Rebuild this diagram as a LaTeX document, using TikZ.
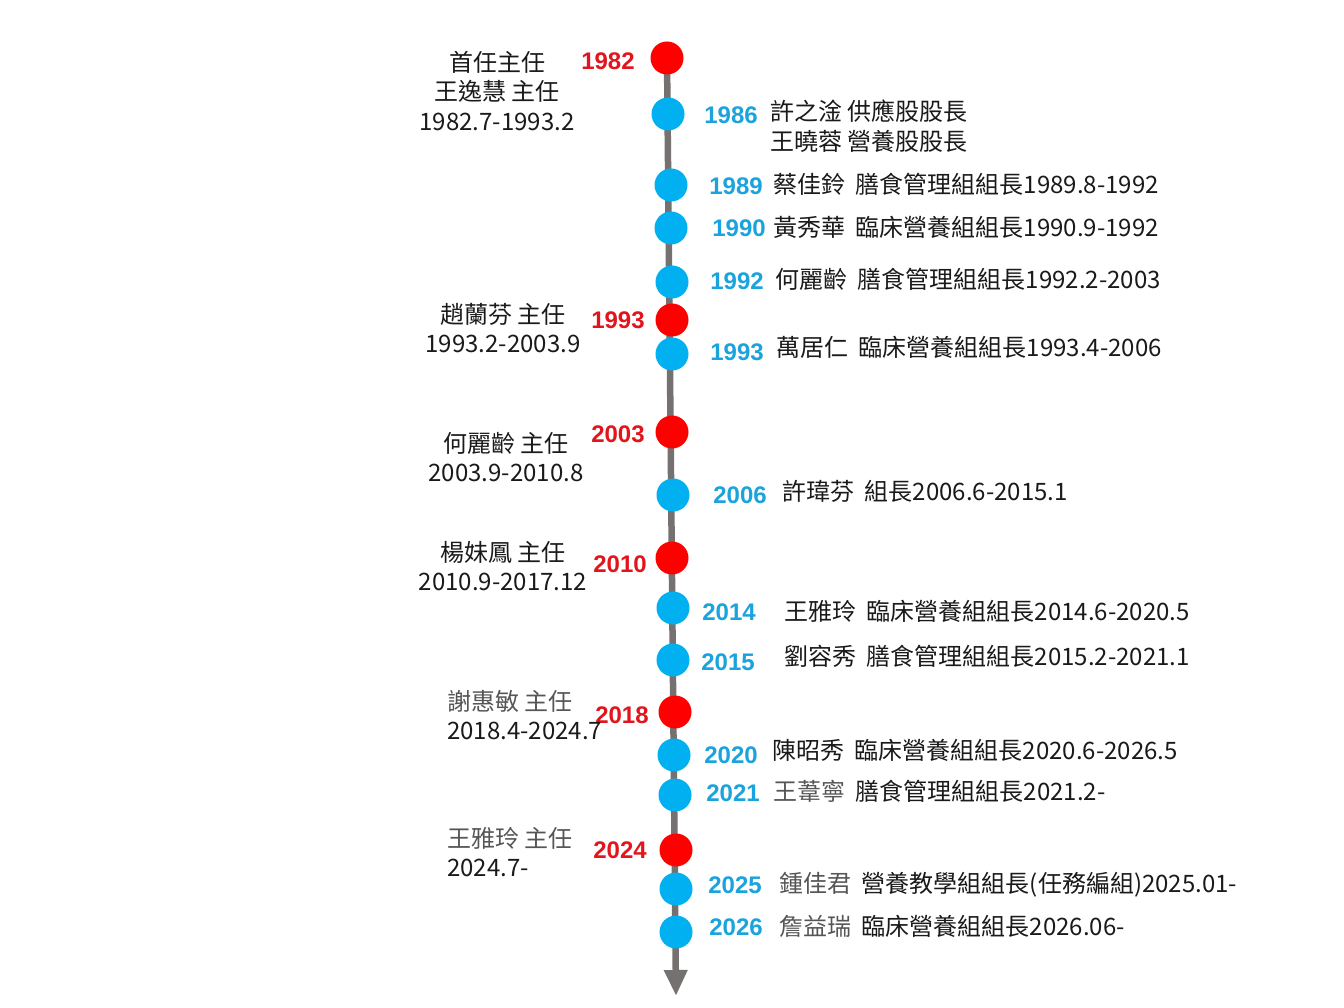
\documentclass[tikz,border=0pt]{standalone}
\usepackage{fontspec}
\setmainfont{Liberation Sans}
\newfontfamily\cjk{Noto Sans CJK TC}
\usetikzlibrary{arrows.meta,backgrounds}
\definecolor{dotred}{HTML}{FF0000}
\definecolor{dotblue}{HTML}{00B0F0}
\definecolor{yearred}{HTML}{E2141C}
\definecolor{yearblue}{HTML}{1AA3DD}
\definecolor{axisgray}{HTML}{767171}
\definecolor{txtdark}{HTML}{1A1A1A}
\definecolor{txtgray}{HTML}{555555}

\begin{document}
\begin{tikzpicture}[x=1pt, y=-1pt,
  dot/.style={circle, minimum size=33pt, inner sep=0pt, outer sep=0pt},
  reddot/.style={dot, fill=dotred},
  bluedot/.style={dot, fill=dotblue},
  ryear/.style={inner sep=0pt, text=yearred, font=\fontsize{24}{28}\selectfont\bfseries},
  byear/.style={inner sep=0pt, text=yearblue, font=\fontsize{24}{28}\selectfont\bfseries},
  txt/.style={inner sep=0pt, text=txtdark, font=\cjk\fontsize{24}{29.5}\selectfont},
  axis/.style={draw=axisgray, line width=6.5pt, -{Triangle[length=26pt,width=22pt]}}]
\useasboundingbox (0,0) rectangle (1344,1008);

\node[reddot] (d1982) at (667,58) {};
\node[bluedot] (d1986) at (668,114) {};
\node[bluedot] (d1989) at (671,185) {};
\node[bluedot] (d1990) at (671,228) {};
\node[bluedot] (d1992) at (672,282) {};
\node[reddot] (d1993r) at (672,320) {};
\node[bluedot] (d1993b) at (672,354) {};
\node[reddot] (d2003) at (672,432) {};
\node[bluedot] (d2006) at (673,495) {};
\node[reddot] (d2010) at (672,558) {};
\node[bluedot] (d2014) at (673,608) {};
\node[bluedot] (d2015) at (673,660) {};
\node[reddot] (d2018) at (675,712) {};
\node[bluedot] (d2020) at (674,755) {};
\node[bluedot] (d2021) at (675,795) {};
\node[reddot] (d2024) at (676,850) {};
\node[bluedot] (d2025) at (676,889) {};
\node[bluedot] (d2026) at (676,932) {};
\coordinate (tip) at (676,996);

\begin{scope}[on background layer]
\fill[white] (0,0) rectangle (1344,1008);
\draw[axis] (d1982.center) -- (tip);
\end{scope}

\node[ryear] (y1982) at (608,61) {1982};
\node[ryear] (y1993r) at (618,320) {1993};
\node[ryear] (y2003) at (618,434) {2003};
\node[ryear] (y2010) at (620,564) {2010};
\node[ryear] (y2018) at (622,715) {2018};
\node[ryear] (y2024) at (620,850) {2024};

\node[byear] (y1986) at (731,115) {1986};
\node[byear] (y1989) at (736,186) {1989};
\node[byear] (y1990) at (739,228) {1990};
\node[byear] (y1992) at (737,281) {1992};
\node[byear] (y1993b) at (737,352) {1993};
\node[byear] (y2006) at (740,495) {2006};
\node[byear] (y2014) at (729,612) {2014};
\node[byear] (y2015) at (728,662) {2015};
\node[byear] (y2020) at (731,755) {2020};
\node[byear] (y2021) at (733,793) {2021};
\node[byear] (y2025) at (735,885) {2025};
\node[byear] (y2026) at (736,927) {2026};

% directors, left side
\node[txt, align=center] (l1982) at (497,91) {首任主任\\王逸慧 主任\\1982.7-1993.2};
\node[txt, align=center] (l1993) at (503,328) {趙蘭芬 主任\\1993.2-2003.9};
\node[txt, align=center] (l2003) at (506,457) {何麗齡 主任\\2003.9-2010.8};
\node[txt, align=center] (l2010) at (503,566) {楊妹鳳 主任\\2010.9-2017.12};
\node[txt, align=left, anchor=west] (l2018) at (447,715) {{\color{txtgray}謝惠敏 主任}\\2018.4-2024.7};
\node[txt, align=left, anchor=west] (l2024) at (447,852) {{\color{txtgray}王雅玲 主任}\\2024.7-};

% section heads, right side
\node[txt, align=left, anchor=west] (r1986) at (770,126) {許之淦 供應股股長\\王曉蓉 營養股股長};
\node[txt, anchor=west] (r1989) at (773,184) {蔡佳鈴~~膳食管理組組長1989.8-1992};
\node[txt, anchor=west] (r1990) at (773,227) {黃秀華~~臨床營養組組長1990.9-1992};
\node[txt, anchor=west] (r1992) at (775,279) {何麗齡~~膳食管理組組長1992.2-2003};
\node[txt, anchor=west] (r1993) at (776,347) {萬居仁~~臨床營養組組長1993.4-2006};
\node[txt, anchor=west] (r2006) at (782,491) {許瑋芬~~組長2006.6-2015.1};
\node[txt, anchor=west] (r2014) at (784,611) {王雅玲~~臨床營養組組長2014.6-2020.5};
\node[txt, anchor=west] (r2015) at (784,656) {劉容秀~~膳食管理組組長2015.2-2021.1};
\node[txt, anchor=west] (r2020) at (772,750) {陳昭秀~~臨床營養組組長2020.6-2026.5};
\node[txt, anchor=west] (r2021) at (773,791) {{\color{txtgray}王葦寧}~~膳食管理組組長2021.2-};
\node[txt, anchor=west] (r2025) at (779,885) {{\color{txtgray}鍾佳君}~~營養教學組組長(任務編組)2025.01-};
\node[txt, anchor=west] (r2026) at (779,926) {{\color{txtgray}詹益瑞}~~臨床營養組組長2026.06-};
\end{tikzpicture}
\end{document}
